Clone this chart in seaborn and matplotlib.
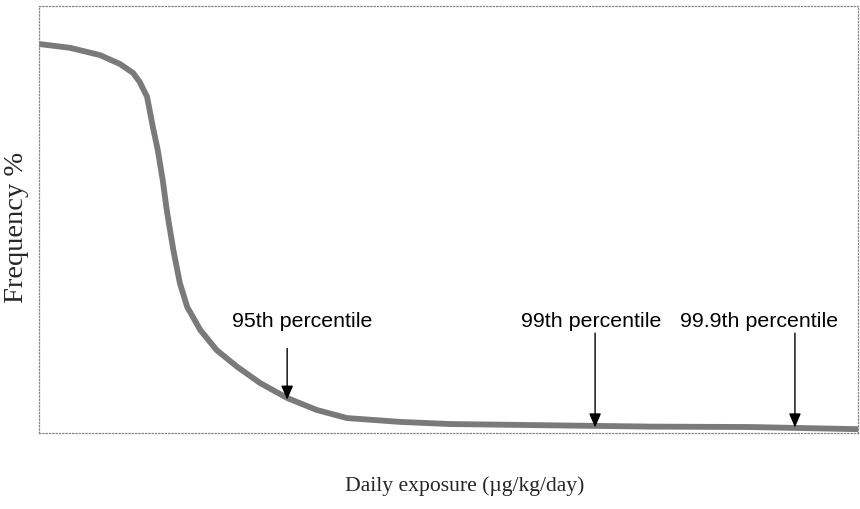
import matplotlib
matplotlib.use("Agg")
import matplotlib.pyplot as plt
import seaborn as sns
import pandas as pd

# Curve (x: relative exposure 0-100, y: frequency % 0-100)
exposure = [0, 3.8, 7.45, 9.9, 11.5, 12.3, 13.2, 13.9, 14.5, 15.1, 15.6, 16.0, 16.4,
            17.2, 18.1, 19.7, 21.7, 24.2, 27.0, 30.3, 33.9, 37.6, 44.1, 50.2, 62.4,
            74.6, 86.8, 100]
frequency = [91.1, 90.2, 88.5, 86.4, 84.3, 82.2, 78.7, 71.7, 66.3, 59.3, 52.2, 47.5, 42.9,
             35.1, 29.5, 24.1, 19.4, 15.5, 11.7, 8.2, 5.4, 3.5, 2.6, 2.1, 1.8,
             1.5, 1.4, 0.9]

percentile_labels = ["95th percentile", "99th percentile", "99.9th percentile"]
percentile_x = [30.3, 67.9, 92.3]
percentile_y = [7.8, 1.3, 1.3]
arrow_top_y = [19.8, 23.4, 23.4]
label_x = [32.1, 67.4, 87.9]
label_y = [26.0, 26.0, 26.0]

sns.set_theme(style="white")
plt.rcParams["font.family"] = ["Liberation Sans", "DejaVu Sans"]

fig = plt.figure(figsize=(8.6, 5.09), dpi=100)
ax = fig.add_axes([39 / 860, 1 - 433 / 509, (858 - 39) / 860, (433 - 6) / 509])

df = pd.DataFrame({"x": exposure, "y": frequency})
sns.lineplot(data=df, x="x", y="y", ax=ax, color="#7a7a7a", linewidth=4.2,
             solid_capstyle="butt", solid_joinstyle="round")

for lab, px, py, ty, lx, ly in zip(percentile_labels, percentile_x, percentile_y,
                                   arrow_top_y, label_x, label_y):
    ax.annotate("", xy=(px, py), xytext=(px, ty),
                arrowprops=dict(arrowstyle="-|>,head_length=0.7,head_width=0.3",
                                color="black", lw=1.0, shrinkA=0, shrinkB=0))
    ax.text(lx, ly, lab, ha="center", va="center", fontsize=15.4, color="black",
            family=["Liberation Sans", "DejaVu Sans"])

ax.set_xlim(0, 100)
ax.set_ylim(0, 100)
ax.set_xticks([])
ax.set_yticks([])
for sp in ax.spines.values():
    sp.set_linestyle(":")
    sp.set_color("#888888")
    sp.set_linewidth(0.9)

ax.set_xlabel("")
ax.set_ylabel("")
fig.text(465 / 860, 1 - 486 / 509, "Daily exposure (\u00b5g/kg/day)", ha="center", va="center",
         fontsize=15.6, family=["Liberation Serif", "DejaVu Serif"])
fig.text(17 / 860, 1 - 227 / 509, "Frequency %", ha="center", va="center", rotation=90,
         fontsize=20.5, family=["Liberation Serif", "DejaVu Serif"])

fig.savefig("out.png", dpi=100)
